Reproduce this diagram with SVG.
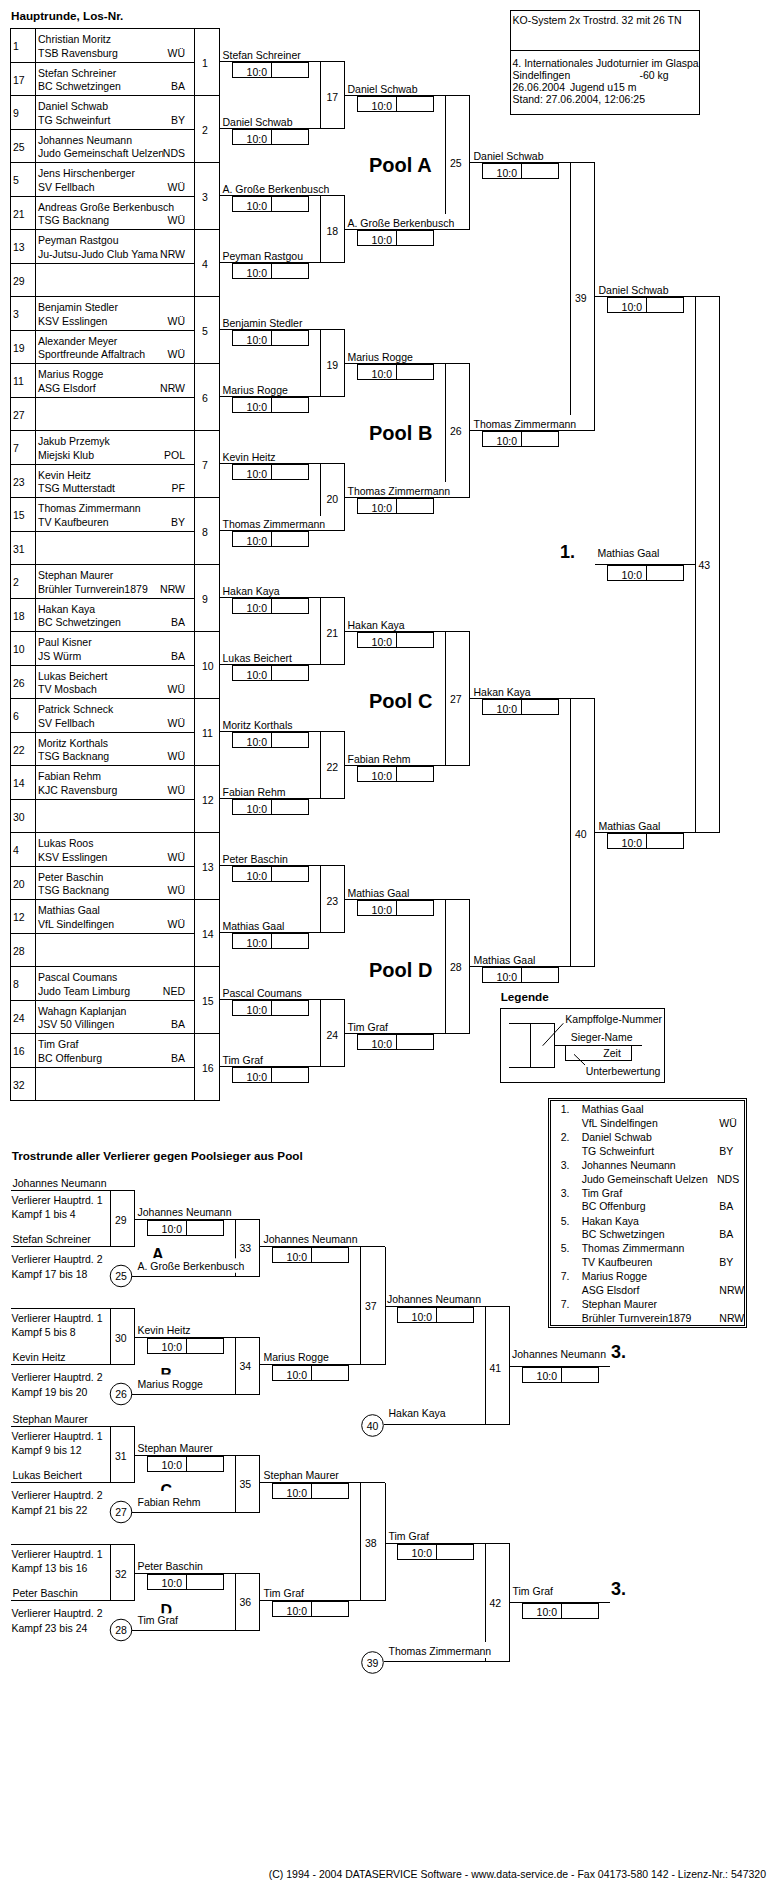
<svg xmlns="http://www.w3.org/2000/svg" width="770" height="1900" viewBox="0 0 770 1900">
<style>
.t{font-family:"Liberation Sans",Arial,sans-serif;font-size:10.5px;fill:#000}
.e{text-anchor:end}
.c{text-anchor:middle}
.h{font-family:"Liberation Sans",Arial,sans-serif;font-weight:bold;font-size:11.7px;fill:#000}
.p{font-family:"Liberation Sans",Arial,sans-serif;font-weight:bold;font-size:20px;fill:#000}
.q{font-family:"Liberation Sans",Arial,sans-serif;font-weight:bold;font-size:16px;fill:#000}
.r{font-family:"Liberation Sans",Arial,sans-serif;font-weight:bold;font-size:18px;fill:#000}
.ln{fill:none;stroke:#000;stroke-width:1;shape-rendering:crispEdges}
.sb{fill:#fff;stroke:#000;stroke-width:1;shape-rendering:crispEdges}
.w{fill:#fff;stroke:none}
.ci{fill:#fff;stroke:#000;stroke-width:1}
</style>
<defs>
<clipPath id="clipA"><rect x="145" y="1240" width="30" height="18.3"/></clipPath>
<clipPath id="clipB"><rect x="150" y="1360" width="30" height="14.5"/></clipPath>
<clipPath id="clipC"><rect x="150" y="1475" width="30" height="16"/></clipPath>
<clipPath id="clipD"><rect x="150" y="1595" width="30" height="18.3"/></clipPath>
</defs>
<rect width="770" height="1900" fill="#fff"/>

<g id="title"><text class="h" x="11" y="20">Hauptrunde, Los-Nr.</text></g>

<g id="header">
<rect class="sb" x="510.5" y="10.5" width="189" height="104"/>
<path class="ln" d="M510.5 50.5H699.5"/>
<text class="t" x="512.5" y="23.5">KO-System 2x Trostrd. 32 mit 26 TN</text>
<text class="t" x="512.5" y="66.7">4. Internationales Judoturnier im Glaspa</text>
<text class="t" x="512.5" y="78.7">Sindelfingen</text>
<text class="t" x="639.5" y="78.7">-60 kg</text>
<text class="t" x="512.5" y="90.7">26.06.2004</text>
<text class="t" x="570" y="90.7">Jugend u15 m</text>
<text class="t" x="512.5" y="102.7">Stand: 27.06.2004, 12:06:25</text>
</g>

<g id="table">
<path class="ln" d="M10.5 28.5H219.5V1100.5H10.5Z M35.5 28.5V1100.5 M194.5 28.5V1100.5
M10.5 62.5H194.5 M10.5 129.5H194.5 M10.5 196.5H194.5 M10.5 263.5H194.5 M10.5 330.5H194.5 M10.5 397.5H194.5 M10.5 464.5H194.5 M10.5 531.5H194.5 M10.5 598.5H194.5 M10.5 665.5H194.5 M10.5 732.5H194.5 M10.5 799.5H194.5 M10.5 866.5H194.5 M10.5 933.5H194.5 M10.5 1000.5H194.5 M10.5 1067.5H194.5
M10.5 95.5H219.5 M10.5 162.5H219.5 M10.5 229.5H219.5 M10.5 296.5H219.5 M10.5 363.5H219.5 M10.5 430.5H219.5 M10.5 497.5H219.5 M10.5 564.5H219.5 M10.5 631.5H219.5 M10.5 698.5H219.5 M10.5 765.5H219.5 M10.5 832.5H219.5 M10.5 899.5H219.5 M10.5 966.5H219.5 M10.5 1033.5H219.5"/>
<g id="row1"><text class="t" x="13" y="50">1</text><text class="t" x="38" y="43">Christian Moritz</text><text class="t" x="38" y="56.5">TSB Ravensburg</text><text class="t e" x="185" y="56.5">WÜ</text></g>
<g id="row17"><text class="t" x="13" y="83.5">17</text><text class="t" x="38" y="76.5">Stefan Schreiner</text><text class="t" x="38" y="90">BC Schwetzingen</text><text class="t e" x="185" y="90">BA</text></g>
<g id="row9"><text class="t" x="13" y="117">9</text><text class="t" x="38" y="110">Daniel Schwab</text><text class="t" x="38" y="123.5">TG Schweinfurt</text><text class="t e" x="185" y="123.5">BY</text></g>
<g id="row25"><text class="t" x="13" y="150.5">25</text><text class="t" x="38" y="143.5">Johannes Neumann</text><text class="t" x="38" y="157">Judo Gemeinschaft Uelzen</text><rect class="w" x="163.5" y="147" width="22" height="13"/><text class="t e" x="185" y="157">NDS</text></g>
<g id="row5"><text class="t" x="13" y="184">5</text><text class="t" x="38" y="177">Jens Hirschenberger</text><text class="t" x="38" y="190.5">SV Fellbach</text><text class="t e" x="185" y="190.5">WÜ</text></g>
<g id="row21"><text class="t" x="13" y="217.5">21</text><text class="t" x="38" y="210.5">Andreas Große Berkenbusch</text><text class="t" x="38" y="224">TSG Backnang</text><text class="t e" x="185" y="224">WÜ</text></g>
<g id="row13"><text class="t" x="13" y="251">13</text><text class="t" x="38" y="244">Peyman Rastgou</text><text class="t" x="38" y="257.5">Ju-Jutsu-Judo Club Yama</text><text class="t e" x="185" y="257.5">NRW</text></g>
<g id="row29"><text class="t" x="13" y="284.5">29</text></g>
<g id="row3"><text class="t" x="13" y="318">3</text><text class="t" x="38" y="311">Benjamin Stedler</text><text class="t" x="38" y="324.5">KSV Esslingen</text><text class="t e" x="185" y="324.5">WÜ</text></g>
<g id="row19"><text class="t" x="13" y="351.5">19</text><text class="t" x="38" y="344.5">Alexander Meyer</text><text class="t" x="38" y="358">Sportfreunde Affaltrach</text><text class="t e" x="185" y="358">WÜ</text></g>
<g id="row11"><text class="t" x="13" y="385">11</text><text class="t" x="38" y="378">Marius Rogge</text><text class="t" x="38" y="391.5">ASG Elsdorf</text><text class="t e" x="185" y="391.5">NRW</text></g>
<g id="row27"><text class="t" x="13" y="418.5">27</text></g>
<g id="row7"><text class="t" x="13" y="452">7</text><text class="t" x="38" y="445">Jakub Przemyk</text><text class="t" x="38" y="458.5">Miejski Klub</text><text class="t e" x="185" y="458.5">POL</text></g>
<g id="row23"><text class="t" x="13" y="485.5">23</text><text class="t" x="38" y="478.5">Kevin Heitz</text><text class="t" x="38" y="492">TSG Mutterstadt</text><text class="t e" x="185" y="492">PF</text></g>
<g id="row15"><text class="t" x="13" y="519">15</text><text class="t" x="38" y="512">Thomas Zimmermann</text><text class="t" x="38" y="525.5">TV Kaufbeuren</text><text class="t e" x="185" y="525.5">BY</text></g>
<g id="row31"><text class="t" x="13" y="552.5">31</text></g>
<g id="row2"><text class="t" x="13" y="586">2</text><text class="t" x="38" y="579">Stephan Maurer</text><text class="t" x="38" y="592.5">Brühler Turnverein1879</text><text class="t e" x="185" y="592.5">NRW</text></g>
<g id="row18"><text class="t" x="13" y="619.5">18</text><text class="t" x="38" y="612.5">Hakan Kaya</text><text class="t" x="38" y="626">BC Schwetzingen</text><text class="t e" x="185" y="626">BA</text></g>
<g id="row10"><text class="t" x="13" y="653">10</text><text class="t" x="38" y="646">Paul Kisner</text><text class="t" x="38" y="659.5">JS Würm</text><text class="t e" x="185" y="659.5">BA</text></g>
<g id="row26"><text class="t" x="13" y="686.5">26</text><text class="t" x="38" y="679.5">Lukas Beichert</text><text class="t" x="38" y="693">TV Mosbach</text><text class="t e" x="185" y="693">WÜ</text></g>
<g id="row6"><text class="t" x="13" y="720">6</text><text class="t" x="38" y="713">Patrick Schneck</text><text class="t" x="38" y="726.5">SV Fellbach</text><text class="t e" x="185" y="726.5">WÜ</text></g>
<g id="row22"><text class="t" x="13" y="753.5">22</text><text class="t" x="38" y="746.5">Moritz Korthals</text><text class="t" x="38" y="760">TSG Backnang</text><text class="t e" x="185" y="760">WÜ</text></g>
<g id="row14"><text class="t" x="13" y="787">14</text><text class="t" x="38" y="780">Fabian Rehm</text><text class="t" x="38" y="793.5">KJC Ravensburg</text><text class="t e" x="185" y="793.5">WÜ</text></g>
<g id="row30"><text class="t" x="13" y="820.5">30</text></g>
<g id="row4"><text class="t" x="13" y="854">4</text><text class="t" x="38" y="847">Lukas Roos</text><text class="t" x="38" y="860.5">KSV Esslingen</text><text class="t e" x="185" y="860.5">WÜ</text></g>
<g id="row20"><text class="t" x="13" y="887.5">20</text><text class="t" x="38" y="880.5">Peter Baschin</text><text class="t" x="38" y="894">TSG Backnang</text><text class="t e" x="185" y="894">WÜ</text></g>
<g id="row12"><text class="t" x="13" y="921">12</text><text class="t" x="38" y="914">Mathias Gaal</text><text class="t" x="38" y="927.5">VfL Sindelfingen</text><text class="t e" x="185" y="927.5">WÜ</text></g>
<g id="row28"><text class="t" x="13" y="954.5">28</text></g>
<g id="row8"><text class="t" x="13" y="988">8</text><text class="t" x="38" y="981">Pascal Coumans</text><text class="t" x="38" y="994.5">Judo Team Limburg</text><text class="t e" x="185" y="994.5">NED</text></g>
<g id="row24"><text class="t" x="13" y="1021.5">24</text><text class="t" x="38" y="1014.5">Wahagn Kaplanjan</text><text class="t" x="38" y="1028">JSV 50 Villingen</text><text class="t e" x="185" y="1028">BA</text></g>
<g id="row16"><text class="t" x="13" y="1055">16</text><text class="t" x="38" y="1048">Tim Graf</text><text class="t" x="38" y="1061.5">BC Offenburg</text><text class="t e" x="185" y="1061.5">BA</text></g>
<g id="row32"><text class="t" x="13" y="1088.5">32</text></g>
<g id="matchnumbers">
<text class="t" x="202" y="66.5">1</text><text class="t" x="202" y="133.5">2</text><text class="t" x="202" y="200.5">3</text><text class="t" x="202" y="267.5">4</text>
<text class="t" x="202" y="334.5">5</text><text class="t" x="202" y="401.5">6</text><text class="t" x="202" y="468.5">7</text><text class="t" x="202" y="535.5">8</text>
<text class="t" x="202" y="602.5">9</text><text class="t" x="202" y="669.5">10</text><text class="t" x="202" y="736.5">11</text><text class="t" x="202" y="803.5">12</text>
<text class="t" x="202" y="870.5">13</text><text class="t" x="202" y="937.5">14</text><text class="t" x="202" y="1004.5">15</text><text class="t" x="202" y="1071.5">16</text>
</g>
</g>

<g id="connectors">
<path class="ln" d="M219.5 61.5H344.5 M219.5 128.5H344.5 M219.5 195.5H344.5 M219.5 262.5H344.5 M219.5 329.5H344.5 M219.5 396.5H344.5 M219.5 463.5H344.5 M219.5 530.5H344.5 M219.5 597.5H344.5 M219.5 664.5H344.5 M219.5 731.5H344.5 M219.5 798.5H344.5 M219.5 865.5H344.5 M219.5 932.5H344.5 M219.5 999.5H344.5 M219.5 1066.5H344.5
M344.5 95.5H469.5 M344.5 229.5H469.5 M344.5 363.5H469.5 M344.5 497.5H469.5 M344.5 631.5H469.5 M344.5 765.5H469.5 M344.5 899.5H469.5 M344.5 1033.5H469.5
M469.5 162.5H594.5 M469.5 430.5H594.5 M469.5 698.5H594.5 M469.5 966.5H594.5
M594.5 296.5H719.5 M594.5 832.5H719.5 M595 564.5H695.5
M11 1190.5H134.5 M11 1246.5H134.5 M134.5 1219H259.5 M131.8 1276H259.5 M259.5 1246.5H385
M11 1308.5H134.5 M11 1364.5H134.5 M134.5 1337H259.5 M131.8 1394H259.5 M259.5 1364.5H385
M11 1426.5H134.5 M11 1482.5H134.5 M134.5 1455H259.5 M131.8 1512H259.5 M259.5 1482.5H385
M11 1544.5H134.5 M11 1600.5H134.5 M134.5 1573H259.5 M131.8 1630H259.5 M259.5 1600.5H385
M385 1306.5H509.5 M385 1543H509.5 M383.5 1424H509.5 M383.5 1661H509.5 M509.5 1366H609.5 M509.5 1602H609.5"/>
</g>

<g id="pools">
<text class="p" x="369" y="171.7">Pool A</text>
<text class="p" x="369" y="440">Pool B</text>
<text class="p" x="369" y="708.3">Pool C</text>
<text class="p" x="369" y="976.5">Pool D</text>
</g>

<g id="round1">
<g id="m1"><text class="t" x="222.5" y="58.8">Stefan Schreiner</text><rect class="sb" x="232.5" y="62.5" width="76" height="15"/><path class="ln" d="M271 62.5V77.5"/><text class="t e" x="267" y="75.8">10:0</text></g>
<g id="m2"><text class="t" x="222.5" y="125.8">Daniel Schwab</text><rect class="sb" x="232.5" y="129.5" width="76" height="15"/><path class="ln" d="M271 129.5V144.5"/><text class="t e" x="267" y="142.8">10:0</text></g>
<g id="m3"><text class="t" x="222.5" y="192.8">A. Große Berkenbusch</text><rect class="sb" x="232.5" y="196.5" width="76" height="15"/><path class="ln" d="M271 196.5V211.5"/><text class="t e" x="267" y="209.8">10:0</text></g>
<g id="m4"><text class="t" x="222.5" y="259.8">Peyman Rastgou</text><rect class="sb" x="232.5" y="263.5" width="76" height="15"/><path class="ln" d="M271 263.5V278.5"/><text class="t e" x="267" y="276.8">10:0</text></g>
<g id="m5"><text class="t" x="222.5" y="326.8">Benjamin Stedler</text><rect class="sb" x="232.5" y="330.5" width="76" height="15"/><path class="ln" d="M271 330.5V345.5"/><text class="t e" x="267" y="343.8">10:0</text></g>
<g id="m6"><text class="t" x="222.5" y="393.8">Marius Rogge</text><rect class="sb" x="232.5" y="397.5" width="76" height="15"/><path class="ln" d="M271 397.5V412.5"/><text class="t e" x="267" y="410.8">10:0</text></g>
<g id="m7"><text class="t" x="222.5" y="460.8">Kevin Heitz</text><rect class="sb" x="232.5" y="464.5" width="76" height="15"/><path class="ln" d="M271 464.5V479.5"/><text class="t e" x="267" y="477.8">10:0</text></g>
<g id="m8"><text class="t" x="222.5" y="527.8">Thomas Zimmermann</text><rect class="sb" x="232.5" y="531.5" width="76" height="15"/><path class="ln" d="M271 531.5V546.5"/><text class="t e" x="267" y="544.8">10:0</text></g>
<g id="m9"><text class="t" x="222.5" y="594.8">Hakan Kaya</text><rect class="sb" x="232.5" y="598.5" width="76" height="15"/><path class="ln" d="M271 598.5V613.5"/><text class="t e" x="267" y="611.8">10:0</text></g>
<g id="m10"><text class="t" x="222.5" y="661.8">Lukas Beichert</text><rect class="sb" x="232.5" y="665.5" width="76" height="15"/><path class="ln" d="M271 665.5V680.5"/><text class="t e" x="267" y="678.8">10:0</text></g>
<g id="m11"><text class="t" x="222.5" y="728.8">Moritz Korthals</text><rect class="sb" x="232.5" y="732.5" width="76" height="15"/><path class="ln" d="M271 732.5V747.5"/><text class="t e" x="267" y="745.8">10:0</text></g>
<g id="m12"><text class="t" x="222.5" y="795.8">Fabian Rehm</text><rect class="sb" x="232.5" y="799.5" width="76" height="15"/><path class="ln" d="M271 799.5V814.5"/><text class="t e" x="267" y="812.8">10:0</text></g>
<g id="m13"><text class="t" x="222.5" y="862.8">Peter Baschin</text><rect class="sb" x="232.5" y="866.5" width="76" height="15"/><path class="ln" d="M271 866.5V881.5"/><text class="t e" x="267" y="879.8">10:0</text></g>
<g id="m14"><text class="t" x="222.5" y="929.8">Mathias Gaal</text><rect class="sb" x="232.5" y="933.5" width="76" height="15"/><path class="ln" d="M271 933.5V948.5"/><text class="t e" x="267" y="946.8">10:0</text></g>
<g id="m15"><text class="t" x="222.5" y="996.8">Pascal Coumans</text><rect class="sb" x="232.5" y="1000.5" width="76" height="15"/><path class="ln" d="M271 1000.5V1015.5"/><text class="t e" x="267" y="1013.8">10:0</text></g>
<g id="m16"><text class="t" x="222.5" y="1063.8">Tim Graf</text><rect class="sb" x="232.5" y="1067.5" width="76" height="15"/><path class="ln" d="M271 1067.5V1082.5"/><text class="t e" x="267" y="1080.8">10:0</text></g>
</g>

<g id="round2">
<g id="m17"><path class="ln" d="M320.5 61.5V128.5 M344.5 61.5V128.5"/><text class="t" x="326.5" y="100.5">17</text><text class="t" x="347.5" y="92.8">Daniel Schwab</text><rect class="sb" x="357.5" y="96.5" width="76" height="15"/><path class="ln" d="M396 96.5V111.5"/><text class="t e" x="392" y="109.8">10:0</text></g>
<g id="m18"><path class="ln" d="M320.5 195.5V262.5 M344.5 195.5V262.5"/><text class="t" x="326.5" y="234.5">18</text><text class="t" x="347.5" y="226.8">A. Große Berkenbusch</text><rect class="sb" x="357.5" y="230.5" width="76" height="15"/><path class="ln" d="M396 230.5V245.5"/><text class="t e" x="392" y="243.8">10:0</text></g>
<g id="m19"><path class="ln" d="M320.5 329.5V396.5 M344.5 329.5V396.5"/><text class="t" x="326.5" y="368.5">19</text><text class="t" x="347.5" y="360.8">Marius Rogge</text><rect class="sb" x="357.5" y="364.5" width="76" height="15"/><path class="ln" d="M396 364.5V379.5"/><text class="t e" x="392" y="377.8">10:0</text></g>
<g id="m20"><path class="ln" d="M320.5 463.5V516 M344.5 463.5V530.5"/><text class="t" x="326.5" y="502.5">20</text><text class="t" x="347.5" y="494.8">Thomas Zimmermann</text><rect class="sb" x="357.5" y="498.5" width="76" height="15"/><path class="ln" d="M396 498.5V513.5"/><text class="t e" x="392" y="511.8">10:0</text></g>
<g id="m21"><path class="ln" d="M320.5 597.5V664.5 M344.5 597.5V664.5"/><text class="t" x="326.5" y="636.5">21</text><text class="t" x="347.5" y="628.8">Hakan Kaya</text><rect class="sb" x="357.5" y="632.5" width="76" height="15"/><path class="ln" d="M396 632.5V647.5"/><text class="t e" x="392" y="645.8">10:0</text></g>
<g id="m22"><path class="ln" d="M320.5 731.5V798.5 M344.5 731.5V798.5"/><text class="t" x="326.5" y="770.5">22</text><text class="t" x="347.5" y="762.8">Fabian Rehm</text><rect class="sb" x="357.5" y="766.5" width="76" height="15"/><path class="ln" d="M396 766.5V781.5"/><text class="t e" x="392" y="779.8">10:0</text></g>
<g id="m23"><path class="ln" d="M320.5 865.5V932.5 M344.5 865.5V932.5"/><text class="t" x="326.5" y="904.5">23</text><text class="t" x="347.5" y="896.8">Mathias Gaal</text><rect class="sb" x="357.5" y="900.5" width="76" height="15"/><path class="ln" d="M396 900.5V915.5"/><text class="t e" x="392" y="913.8">10:0</text></g>
<g id="m24"><path class="ln" d="M320.5 999.5V1066.5 M344.5 999.5V1066.5"/><text class="t" x="326.5" y="1038.5">24</text><text class="t" x="347.5" y="1030.8">Tim Graf</text><rect class="sb" x="357.5" y="1034.5" width="76" height="15"/><path class="ln" d="M396 1034.5V1049.5"/><text class="t e" x="392" y="1047.8">10:0</text></g>
</g>

<g id="round3">
<g id="m25"><path class="ln" d="M445.5 95.5V213.8 M469.5 95.5V229.5"/><text class="t" x="450" y="167">25</text><text class="t" x="473.5" y="159.8">Daniel Schwab</text><rect class="sb" x="482.5" y="163.5" width="76" height="15"/><path class="ln" d="M521 163.5V178.5"/><text class="t e" x="517" y="176.8">10:0</text></g>
<g id="m26"><path class="ln" d="M445.5 363.5V481.8 M469.5 363.5V497.5"/><text class="t" x="450" y="435">26</text><text class="t" x="473.5" y="427.8">Thomas Zimmermann</text><rect class="sb" x="482.5" y="431.5" width="76" height="15"/><path class="ln" d="M521 431.5V446.5"/><text class="t e" x="517" y="444.8">10:0</text></g>
<g id="m27"><path class="ln" d="M445.5 631.5V765.5 M469.5 631.5V765.5"/><text class="t" x="450" y="703">27</text><text class="t" x="473.5" y="695.8">Hakan Kaya</text><rect class="sb" x="482.5" y="699.5" width="76" height="15"/><path class="ln" d="M521 699.5V714.5"/><text class="t e" x="517" y="712.8">10:0</text></g>
<g id="m28"><path class="ln" d="M445.5 899.5V1033.5 M469.5 899.5V1033.5"/><text class="t" x="450" y="971">28</text><text class="t" x="473.5" y="963.8">Mathias Gaal</text><rect class="sb" x="482.5" y="967.5" width="76" height="15"/><path class="ln" d="M521 967.5V982.5"/><text class="t e" x="517" y="980.8">10:0</text></g>
</g>

<g id="round4">
<g id="m39"><path class="ln" d="M570.5 162.5V414.8 M594.5 162.5V430.5"/><text class="t" x="575" y="301.5">39</text><text class="t" x="598.5" y="293.5">Daniel Schwab</text><rect class="sb" x="607.5" y="297.5" width="76" height="15"/><path class="ln" d="M646 297.5V312.5"/><text class="t e" x="642" y="310.8">10:0</text></g>
<g id="m40"><path class="ln" d="M570.5 698.5V966.5 M594.5 698.5V966.5"/><text class="t" x="575" y="837.5">40</text><text class="t" x="598.5" y="829.5">Mathias Gaal</text><rect class="sb" x="607.5" y="833.5" width="76" height="15"/><path class="ln" d="M646 833.5V848.5"/><text class="t e" x="642" y="846.8">10:0</text></g>
<g id="m43"><path class="ln" d="M695.5 296.5V832.5 M719.5 296.5V832.5"/><text class="t" x="698.5" y="569">43</text><text class="r" x="560" y="558.3">1.</text><text class="t" x="597.5" y="556.7">Mathias Gaal</text><rect class="sb" x="607.5" y="565.5" width="76" height="15"/><path class="ln" d="M646 565.5V580.5"/><text class="t e" x="642" y="578.8">10:0</text></g>
</g>

<g id="legend">
<text class="h" x="500.7" y="1001">Legende</text>
<rect class="sb" x="500.5" y="1008.5" width="164" height="74"/>
<path class="ln" d="M508.5 1023.5H530.5 M508.5 1067H530.5 M554.5 1045.5H641.5 M598.5 1045.5V1060.5"/>
<rect class="sb" x="530.5" y="1023.5" width="24" height="43.5"/>
<rect class="sb" x="565.5" y="1045.5" width="66" height="15"/>
<path d="M542.7 1045.7L563.3 1023.3 M574 1054.3L585 1065" stroke="#000" stroke-width="1" fill="none"/>
<text class="t" x="565.3" y="1023.3">Kampffolge-Nummer</text>
<text class="t" x="570.7" y="1041">Sieger-Name</text>
<text class="t" x="603.3" y="1057">Zeit</text>
<text class="t" x="585.7" y="1075">Unterbewertung</text>
</g>

<g id="ranking">
<rect class="sb" x="548.5" y="1098.5" width="198" height="229"/>
<rect class="sb" x="550.5" y="1100.5" width="194" height="225"/>
<text class="t" x="560.7" y="1113.3">1.</text><text class="t" x="581.7" y="1113.3">Mathias Gaal</text><text class="t" x="581.7" y="1127">VfL Sindelfingen</text><text class="t" x="719.3" y="1127">WÜ</text>
<text class="t" x="560.7" y="1141.1">2.</text><text class="t" x="581.7" y="1141.1">Daniel Schwab</text><text class="t" x="581.7" y="1154.8">TG Schweinfurt</text><text class="t" x="719.3" y="1154.8">BY</text>
<text class="t" x="560.7" y="1168.9">3.</text><text class="t" x="581.7" y="1168.9">Johannes Neumann</text><text class="t" x="581.7" y="1182.6">Judo Gemeinschaft Uelzen</text><text class="t" x="717" y="1182.6">NDS</text>
<text class="t" x="560.7" y="1196.7">3.</text><text class="t" x="581.7" y="1196.7">Tim Graf</text><text class="t" x="581.7" y="1210.4">BC Offenburg</text><text class="t" x="719.3" y="1210.4">BA</text>
<text class="t" x="560.7" y="1224.5">5.</text><text class="t" x="581.7" y="1224.5">Hakan Kaya</text><text class="t" x="581.7" y="1238.2">BC Schwetzingen</text><text class="t" x="719.3" y="1238.2">BA</text>
<text class="t" x="560.7" y="1252.3">5.</text><text class="t" x="581.7" y="1252.3">Thomas Zimmermann</text><text class="t" x="581.7" y="1266">TV Kaufbeuren</text><text class="t" x="719.3" y="1266">BY</text>
<text class="t" x="560.7" y="1280.1">7.</text><text class="t" x="581.7" y="1280.1">Marius Rogge</text><text class="t" x="581.7" y="1293.8">ASG Elsdorf</text><text class="t" x="719.3" y="1293.8">NRW</text>
<text class="t" x="560.7" y="1307.9">7.</text><text class="t" x="581.7" y="1307.9">Stephan Maurer</text><text class="t" x="581.7" y="1321.6">Brühler Turnverein1879</text><text class="t" x="719.3" y="1321.6">NRW</text>
</g>

<g id="trostrunde-title"><text class="h" x="11.7" y="1160">Trostrunde aller Verlierer gegen Poolsieger aus Pool</text></g>

<g id="blockA">
<text class="t" x="12.5" y="1186.5">Johannes Neumann</text>
<g id="m29"><path class="ln" d="M110.5 1190.5V1246.5 M134.5 1190.5V1246.5"/><text class="t" x="115" y="1223.5">29</text></g>
<text class="t" x="11.5" y="1204.3">Verlierer Hauptrd. 1</text><text class="t" x="11.5" y="1218.3">Kampf 1 bis 4</text>
<text class="t" x="12.5" y="1242.8">Stefan Schreiner</text>
<text class="t" x="11.5" y="1262.8">Verlierer Hauptrd. 2</text><text class="t" x="11.5" y="1277.5">Kampf 17 bis 18</text>
<g id="c25"><circle class="ci" cx="121" cy="1276" r="10.8"/><text class="t c" x="121" y="1280">25</text></g>
<text class="t" x="137.5" y="1216">Johannes Neumann</text><rect class="sb" x="147.5" y="1220" width="76" height="15"/><path class="ln" d="M186 1220V1235"/><text class="t e" x="182" y="1233.3">10:0</text>
<g id="m33"><path class="ln" d="M235.5 1219V1276 M259.5 1219V1276"/><text class="t" x="239.5" y="1252">33</text></g>
<text class="q" x="152" y="1259.5" clip-path="url(#clipA)">A</text><rect class="w" x="137" y="1258.3" width="109" height="14.5"/><text class="t" x="137.5" y="1269.8">A. Große Berkenbusch</text>
<text class="t" x="263.5" y="1243.3">Johannes Neumann</text><rect class="sb" x="272.5" y="1247.5" width="76" height="15"/><path class="ln" d="M311 1247.5V1262.5"/><text class="t e" x="307" y="1260.8">10:0</text>
</g>

<g id="blockB">
<g id="m30"><path class="ln" d="M110.5 1308.5V1364.5 M134.5 1308.5V1364.5"/><text class="t" x="115" y="1341.5">30</text></g>
<text class="t" x="11.5" y="1322.3">Verlierer Hauptrd. 1</text><text class="t" x="11.5" y="1336.3">Kampf 5 bis 8</text>
<text class="t" x="12.5" y="1360.8">Kevin Heitz</text>
<text class="t" x="11.5" y="1380.8">Verlierer Hauptrd. 2</text><text class="t" x="11.5" y="1395.5">Kampf 19 bis 20</text>
<g id="c26"><circle class="ci" cx="121" cy="1394" r="10.8"/><text class="t c" x="121" y="1398">26</text></g>
<text class="t" x="137.5" y="1334">Kevin Heitz</text><rect class="sb" x="147.5" y="1338" width="76" height="15"/><path class="ln" d="M186 1338V1353"/><text class="t e" x="182" y="1351.3">10:0</text>
<g id="m34"><path class="ln" d="M235.5 1337V1394 M259.5 1337V1394"/><text class="t" x="239.5" y="1370">34</text></g>
<text class="q" x="160.5" y="1379.8" clip-path="url(#clipB)">B</text><text class="t" x="137.5" y="1387.8">Marius Rogge</text>
<text class="t" x="263.5" y="1361.3">Marius Rogge</text><rect class="sb" x="272.5" y="1365.5" width="76" height="15"/><path class="ln" d="M311 1365.5V1380.5"/><text class="t e" x="307" y="1378.8">10:0</text>
</g>

<g id="blockC">
<text class="t" x="12.5" y="1422.5">Stephan Maurer</text>
<g id="m31"><path class="ln" d="M110.5 1426.5V1482.5 M134.5 1426.5V1482.5"/><text class="t" x="115" y="1459.5">31</text></g>
<text class="t" x="11.5" y="1440.3">Verlierer Hauptrd. 1</text><text class="t" x="11.5" y="1454.3">Kampf 9 bis 12</text>
<text class="t" x="12.5" y="1478.8">Lukas Beichert</text>
<text class="t" x="11.5" y="1498.8">Verlierer Hauptrd. 2</text><text class="t" x="11.5" y="1513.5">Kampf 21 bis 22</text>
<g id="c27"><circle class="ci" cx="121" cy="1512" r="10.8"/><text class="t c" x="121" y="1516">27</text></g>
<text class="t" x="137.5" y="1452">Stephan Maurer</text><rect class="sb" x="147.5" y="1456" width="76" height="15"/><path class="ln" d="M186 1456V1471"/><text class="t e" x="182" y="1469.3">10:0</text>
<g id="m35"><path class="ln" d="M235.5 1455V1512 M259.5 1455V1512"/><text class="t" x="239.5" y="1488">35</text></g>
<text class="q" x="160.5" y="1496.3" clip-path="url(#clipC)">C</text><text class="t" x="137.5" y="1505.8">Fabian Rehm</text>
<text class="t" x="263.5" y="1479.3">Stephan Maurer</text><rect class="sb" x="272.5" y="1483.5" width="76" height="15"/><path class="ln" d="M311 1483.5V1498.5"/><text class="t e" x="307" y="1496.8">10:0</text>
</g>

<g id="blockD">
<g id="m32"><path class="ln" d="M110.5 1544.5V1600.5 M134.5 1544.5V1600.5"/><text class="t" x="115" y="1577.5">32</text></g>
<text class="t" x="11.5" y="1558.3">Verlierer Hauptrd. 1</text><text class="t" x="11.5" y="1572.3">Kampf 13 bis 16</text>
<text class="t" x="12.5" y="1596.8">Peter Baschin</text>
<text class="t" x="11.5" y="1616.8">Verlierer Hauptrd. 2</text><text class="t" x="11.5" y="1631.5">Kampf 23 bis 24</text>
<g id="c28"><circle class="ci" cx="121" cy="1630" r="10.8"/><text class="t c" x="121" y="1634">28</text></g>
<text class="t" x="137.5" y="1570">Peter Baschin</text><rect class="sb" x="147.5" y="1574" width="76" height="15"/><path class="ln" d="M186 1574V1589"/><text class="t e" x="182" y="1587.3">10:0</text>
<g id="m36"><path class="ln" d="M235.5 1573V1630 M259.5 1573V1630"/><text class="t" x="239.5" y="1606">36</text></g>
<text class="q" x="160.5" y="1615.5" clip-path="url(#clipD)">D</text><text class="t" x="137.5" y="1623.8">Tim Graf</text>
<text class="t" x="263.5" y="1597.3">Tim Graf</text><rect class="sb" x="272.5" y="1601.5" width="76" height="15"/><path class="ln" d="M311 1601.5V1616.5"/><text class="t e" x="307" y="1614.8">10:0</text>
</g>

<g id="trost-final">
<g id="m37"><path class="ln" d="M360.5 1246.5V1364.5 M385 1246.5V1364.5"/><text class="t" x="365" y="1310">37</text>
<text class="t" x="387" y="1303">Johannes Neumann</text><rect class="sb" x="397.5" y="1307.5" width="76" height="15"/><path class="ln" d="M436 1307.5V1322.5"/><text class="t e" x="432" y="1320.8">10:0</text></g>
<g id="m38"><path class="ln" d="M360.5 1482.5V1600.5 M385 1482.5V1600.5"/><text class="t" x="365" y="1547">38</text>
<text class="t" x="388.5" y="1539.5">Tim Graf</text><rect class="sb" x="397.5" y="1544" width="76" height="15"/><path class="ln" d="M436 1544V1559"/><text class="t e" x="432" y="1557.3">10:0</text></g>
<g id="c40"><circle class="ci" cx="372.5" cy="1425.5" r="10.8"/><text class="t c" x="372.5" y="1429.5">40</text></g>
<text class="t" x="388.5" y="1417.3">Hakan Kaya</text>
<g id="c39"><circle class="ci" cx="372.5" cy="1662.5" r="10.8"/><text class="t c" x="372.5" y="1666.5">39</text></g>
<text class="t" x="388.5" y="1654.5">Thomas Zimmermann</text>
<g id="m41"><path class="ln" d="M485.5 1306.5V1424 M509.5 1306.5V1424"/><text class="t" x="489.5" y="1371.5">41</text>
<text class="t" x="512" y="1358.3">Johannes Neumann</text><text class="r" x="611" y="1358.3">3.</text><rect class="sb" x="522.5" y="1367" width="76" height="15"/><path class="ln" d="M561 1367V1382"/><text class="t e" x="557" y="1380.3">10:0</text></g>
<g id="m42"><path class="ln" d="M485.5 1543V1641.5 M485.5 1657.5V1661 M509.5 1543V1661"/><text class="t" x="489.5" y="1607">42</text>
<text class="t" x="512.5" y="1595">Tim Graf</text><text class="r" x="611" y="1595">3.</text><rect class="sb" x="522.5" y="1603" width="76" height="15"/><path class="ln" d="M561 1603V1618"/><text class="t e" x="557" y="1616.3">10:0</text></g>
</g>

<g id="footer"><text class="t e" x="766" y="1878">(C) 1994 - 2004 DATASERVICE Software - www.data-service.de - Fax 04173-580 142 - Lizenz-Nr.: 547320</text></g>
</svg>
